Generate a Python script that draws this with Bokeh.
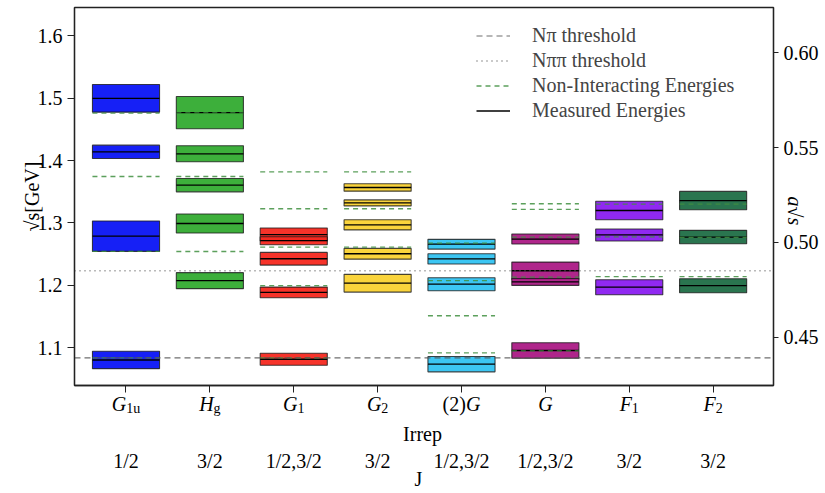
import numpy as np
from bokeh.plotting import figure
from bokeh.layouts import column
from bokeh.models import (Range1d, LinearAxis, FixedTicker, PrintfTickFormatter,
                          Legend, LegendItem, ColumnDataSource)
from bokeh.core.properties import value
from bokeh.embed import file_html
from bokeh.resources import INLINE

# ---------------------------------------------------------------- data
irreps = ["G_1u", "H_g", "G_1", "G_2", "(2)G", "G", "F_1", "F_2"]
spins = ["1/2", "3/2", "1/2,3/2", "3/2", "1/2,3/2", "1/2,3/2", "3/2", "3/2"]
irrep_colors = ["#0a14f5", "#33ab30", "#f5281f", "#fad232",
                "#32c3f2", "#ab1a85", "#8a1ef0", "#1f6e46"]

# measured levels: irrep index, energy [GeV], half-width of the band
level_irrep = [0, 0, 0, 0,
               1, 1, 1, 1, 1,
               2, 2, 2, 2, 2,
               3, 3, 3, 3, 3,
               4, 4, 4, 4,
               5, 5, 5, 5,
               6, 6, 6,
               7, 7, 7]
level_energy = [1.4998, 1.4140, 1.2789, 1.0805,
                1.4769, 1.4109, 1.3606, 1.2992, 1.2076,
                1.2815, 1.2716, 1.2427, 1.1888, 1.0817,
                1.3569, 1.3322, 1.2971, 1.2507, 1.2035,
                1.2660, 1.2425, 1.2019, 1.0738,
                1.2743, 1.2235, 1.2055, 1.0957,
                1.3200, 1.2808, 1.1971,
                1.3359, 1.2775, 1.1995]
level_error = [0.0222, 0.0107, 0.0244, 0.0139,
               0.0259, 0.0128, 0.0107, 0.0152, 0.0128,
               0.0104, 0.0064, 0.0102, 0.0085, 0.0096,
               0.0059, 0.0048, 0.0082, 0.0086, 0.0142,
               0.0078, 0.0083, 0.0104, 0.0123,
               0.0080, 0.0138, 0.0055, 0.0124,
               0.0149, 0.0096, 0.0120,
               0.0147, 0.0107, 0.0112]

# non-interacting energies: irrep index, energy [GeV]
ni_irrep = [0, 0, 0, 0,
            1, 1, 1,
            2, 2, 2, 2, 2,
            3, 3, 3,
            4, 4, 4, 4,
            5, 5, 5, 5, 5,
            6, 6, 6,
            7, 7, 7]
ni_energy = [1.4760, 1.3745, 1.2545, 1.0840,
             1.4766, 1.3745, 1.2543,
             1.3820, 1.3228, 1.2613, 1.1995, 1.0840,
             1.3820, 1.3228, 1.2613,
             1.2677, 1.2075, 1.1514, 1.0920,
             1.3308, 1.3218, 1.2775, 1.2133, 1.0950,
             1.3301, 1.2776, 1.2140,
             1.3301, 1.2769, 1.2140]

n_pi_threshold = 1.0840
n_pi_pi_threshold = 1.2235

left_ticks = [1.1, 1.2, 1.3, 1.4, 1.5, 1.6]
right_ticks = [0.45, 0.50, 0.55, 0.60]

# ---------------------------------------------------------------- layout
W = 825
TOP_H, BOTTOM_H = 394, 99
FRAME_L, FRAME_R, FRAME_T, FRAME_B = 74, 773, 7, 385
X0, X1 = -0.614, 7.72
Y0, Y1 = 1.0396, 1.6453
A0, A1 = 0.4245, 0.6239
HALF = 0.4
FONT = "Liberation Serif"
MAIN = 20
SUB = 14

x_range = Range1d(X0, X1)

p = figure(width=W, height=TOP_H, x_range=x_range, y_range=Range1d(Y0, Y1),
           output_backend="svg", toolbar_location=None, title=None,
           min_border_left=FRAME_L, min_border_right=W - FRAME_R,
           min_border_top=FRAME_T, min_border_bottom=TOP_H - FRAME_B)
p.extra_y_ranges = {"a": Range1d(A0, A1)}
p.xgrid.visible = False
p.ygrid.visible = False
p.outline_line_color = "#222222"
p.outline_line_width = 1.3
p.background_fill_color = "white"
p.border_fill_color = "white"

# ---------------------------------------------------------------- marks
lx = np.array(level_irrep, dtype=float)
le = np.array(level_energy)
lerr = np.array(level_error)
levels = ColumnDataSource(dict(
    left=lx - HALF, right=lx + HALF, bottom=le - lerr, top=le + lerr, y=le,
    color=[irrep_colors[i] for i in level_irrep]))

p.quad(left="left", right="right", bottom="bottom", top="top", source=levels,
       fill_color="color", fill_alpha=0.95, line_color="#1a1a1a",
       line_alpha=0.8, line_width=1.1)
measured = p.segment(x0="left", x1="right", y0="y", y1="y", source=levels,
                     line_color="black", line_width=1.3)

nx = np.array(ni_irrep, dtype=float)
ni_src = ColumnDataSource(dict(left=nx - HALF, right=nx + HALF, y=ni_energy))
ni = p.segment(x0="left", x1="right", y0="y", y1="y", source=ni_src,
               line_color="#3f8f3f", line_alpha=0.85, line_width=1.3,
               line_dash="5 4")

thr_np = p.segment(x0=[X0], x1=[X1], y0=[n_pi_threshold], y1=[n_pi_threshold],
                   line_color="#555555", line_alpha=0.85, line_width=1.2,
                   line_dash="6 4")
thr_npp = p.segment(x0=[X0], x1=[X1], y0=[n_pi_pi_threshold],
                    y1=[n_pi_pi_threshold], line_color="#666666",
                    line_alpha=0.9, line_width=1.4, line_dash="1 4")

# ---------------------------------------------------------------- axes
yax = p.yaxis[0]
yax.ticker = FixedTicker(ticks=left_ticks)
yax.formatter = PrintfTickFormatter(format="%.1f")
yax.axis_label = "\u221as[GeV]"
yax.axis_label_standoff = -8
yax.axis_label_text_font_style = "normal"

ax_right = LinearAxis(y_range_name="a", ticker=FixedTicker(ticks=right_ticks),
                      formatter=PrintfTickFormatter(format="%.2f"))
ax_right.axis_label = "a\u221as"
ax_right.axis_label_text_font_style = "italic"
ax_right.axis_label_standoff = -27
if "axis_label_orientation" in ax_right.properties():
    # read the right-hand label bottom to top, like the left one
    ax_right.axis_label_orientation = -np.pi / 2
p.add_layout(ax_right, "right")

xax = p.xaxis[0]
xax.ticker = FixedTicker(ticks=list(range(len(irreps))))
xax.major_label_overrides = {i: "" for i in range(len(irreps))}

for ax, tick_len in ((yax, 7), (ax_right, 5), (xax, 7)):
    ax.major_tick_out = tick_len
    ax.major_tick_in = 0
    ax.minor_tick_line_color = None
    ax.axis_line_color = "#222222"
    ax.axis_line_width = 1.3
    ax.major_tick_line_color = "#222222"
    ax.major_label_text_font = FONT
    ax.major_label_text_font_size = f"{MAIN}px"
    ax.major_label_text_color = "black"
    ax.major_label_standoff = 5
    ax.axis_label_text_font = FONT
    ax.axis_label_text_font_size = f"{MAIN}px"
    ax.axis_label_text_color = "black"
xax.major_label_text_font_size = "1px"
xax.major_label_standoff = 0

# ---------------------------------------------------------------- legend
legend = Legend(items=[
    LegendItem(label="N\u03c0 threshold", renderers=[thr_np]),
    LegendItem(label="N\u03c0\u03c0 threshold", renderers=[thr_npp]),
    LegendItem(label="Non-Interacting Energies", renderers=[ni]),
    LegendItem(label="Measured Energies", renderers=[measured]),
], location=(402, 263))
legend.background_fill_alpha = 0
legend.border_line_alpha = 0
legend.padding = 0
legend.margin = 0
legend.spacing = 2
legend.glyph_width = 34
legend.glyph_height = 21
legend.label_height = 21
legend.label_standoff = 22
legend.label_text_font = FONT
legend.label_text_font_size = f"{MAIN}px"
p.add_layout(legend)

# ------------------------------------------- category labels under the axis
# strip below the frame, y measured in pixels downward from its top edge
q = figure(width=W, height=BOTTOM_H, x_range=x_range, y_range=Range1d(BOTTOM_H, 0),
           output_backend="svg", toolbar_location=None, title=None,
           x_axis_type=None, y_axis_type=None,
           min_border_left=FRAME_L, min_border_right=W - FRAME_R,
           min_border_top=0, min_border_bottom=0)
q.outline_line_color = None
q.background_fill_color = "white"
q.border_fill_color = "white"

WIDTH_UP = {"(": 0.333, ")": 0.333, "1": 0.5, "2": 0.5, "u": 0.5, "g": 0.5}
WIDTH_IT = {"G": 0.722, "H": 0.722, "F": 0.611}


def text_width(s, size, style):
    table = WIDTH_IT if style == "italic" else WIDTH_UP
    return sum(table.get(c, 0.5) for c in s) * size


def irrep_pieces(name):
    pieces = []
    if name.startswith("("):
        k = name.index(")") + 1
        pieces.append((name[:k], "normal", MAIN, 0))
        name = name[k:]
    base, _, sub = name.partition("_")
    pieces.append((base, "italic", MAIN, 0))
    if sub:
        pieces.append((sub, "normal", SUB, 4))
    return pieces


BASE_IRREP, BASE_IRREP_TITLE, BASE_SPIN, BASE_SPIN_TITLE = 9.5, 39, 66, 84

rows = {"normal": dict(x=[], y=[], text=[], dx=[], size=[]),
        "italic": dict(x=[], y=[], text=[], dx=[], size=[])}
for i, name in enumerate(irreps):
    pieces = irrep_pieces(name)
    total = sum(text_width(t, s, st) for t, st, s, _ in pieces)
    off = -total / 2
    for t, st, s, drop in pieces:
        r = rows[st]
        r["x"].append(i)
        r["y"].append(BASE_IRREP + drop)
        r["text"].append(t)
        r["dx"].append(off)
        r["size"].append(f"{s}px")
        off += text_width(t, s, st)

for st, r in rows.items():
    q.text(x="x", y="y", text="text", x_offset="dx", text_font_size="size",
           source=ColumnDataSource(r), text_font=value(FONT),
           text_font_style=st, text_align="left", text_baseline="alphabetic",
           text_color="black")

q.text(x=list(range(len(spins))), y=[BASE_SPIN] * len(spins), text=spins,
       text_font=value(FONT), text_font_size=f"{MAIN}px", text_align="center",
       text_baseline="alphabetic", text_color="black")


def frame_x(px):
    return X0 + (px - FRAME_L) / (FRAME_R - FRAME_L) * (X1 - X0)


q.text(x=[frame_x(422)], y=[BASE_IRREP_TITLE], text=["Irrep"],
       text_font=value(FONT), text_font_size=f"{MAIN}px", text_align="center",
       text_baseline="alphabetic", text_color="black")
q.text(x=[frame_x(418)], y=[BASE_SPIN_TITLE], text=["J"],
       text_font=value(FONT), text_font_size=f"{MAIN}px", text_align="center",
       text_baseline="alphabetic", text_color="black")

open("out.html", "w").write(file_html(column(p, q), INLINE))
